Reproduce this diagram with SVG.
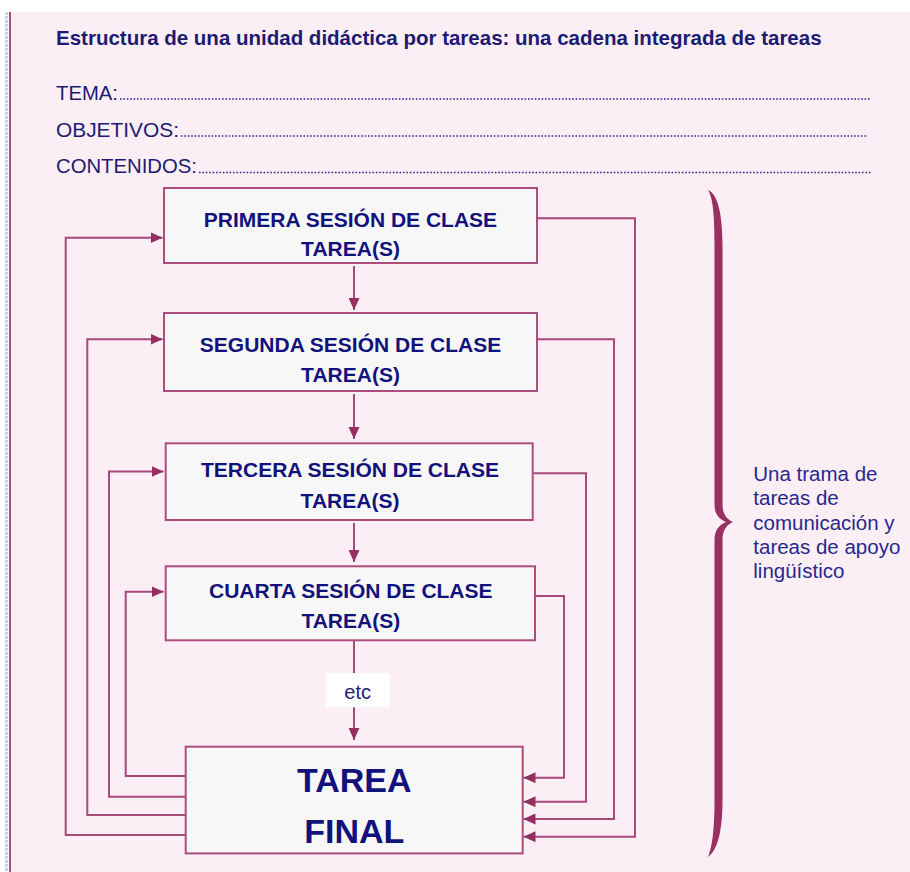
<svg xmlns="http://www.w3.org/2000/svg" width="910" height="872" viewBox="0 0 910 872">
<defs>
<style>
.hdr{font-family:"Liberation Sans",Arial,sans-serif;fill:#1c1c72}
.title{font-size:20.5px;font-weight:bold}
.field{font-size:20.5px}
.dots{stroke:#2a2a8c;stroke-width:1.6;stroke-dasharray:1.6 1.8;fill:none}
.box{fill:#f7f7f7;stroke:#ad4d7e;stroke-width:2}
.bt{font-family:"Liberation Sans",Arial,sans-serif;font-weight:bold;font-size:21px;fill:#12127c;text-anchor:middle}
.big{font-size:34px}
.con{fill:none;stroke:#a9497b;stroke-width:2}
.side{font-family:"Liberation Sans",Arial,sans-serif;font-size:20.5px;fill:#28288e}
</style>
<marker id="ah" markerUnits="userSpaceOnUse" markerWidth="12" markerHeight="11" refX="12" refY="5.5" orient="auto">
<path d="M0,0 L12,5.5 L0,11 Z" fill="#962e60"/>
</marker>
</defs>
<rect x="0" y="0" width="910" height="872" fill="#ffffff"/>
<rect x="9" y="12" width="901" height="860" fill="#fbeef4"/>
<line x1="6.5" y1="12" x2="6.5" y2="872" stroke="#c6d4ea" stroke-width="3" stroke-dasharray="3 1"/>
<line x1="10" y1="12" x2="10" y2="872" stroke="#ad4d7e" stroke-width="2"/>

<g id="header">
<text class="hdr title" x="56" y="45">Estructura de una unidad didáctica por tareas: una cadena integrada de tareas</text>
<text class="hdr field" x="56" y="100" textLength="62" lengthAdjust="spacingAndGlyphs">TEMA:</text>
<line class="dots" x1="120" y1="99" x2="870" y2="99"/>
<text class="hdr field" x="56" y="136.7" textLength="123" lengthAdjust="spacingAndGlyphs">OBJETIVOS:</text>
<line class="dots" x1="181" y1="136" x2="868" y2="136"/>
<text class="hdr field" x="56" y="173.3" textLength="141" lengthAdjust="spacingAndGlyphs">CONTENIDOS:</text>
<line class="dots" x1="199" y1="172.5" x2="872" y2="172.5"/>
</g>

<g id="connectors">
<path class="con" d="M354,266 V310" marker-end="url(#ah)"/>
<path class="con" d="M354,394 V439" marker-end="url(#ah)"/>
<path class="con" d="M354,523 V562" marker-end="url(#ah)"/>
<path class="con" d="M354,640 V673"/>
<path class="con" d="M354,707 V740" marker-end="url(#ah)"/>
<path class="con" d="M185.7,835 H65.7 V237.7 H162.5" marker-end="url(#ah)"/>
<path class="con" d="M185.7,815 H87.3 V339.3 H162.5" marker-end="url(#ah)"/>
<path class="con" d="M185.7,796.7 H109 V471.5 H163.5" marker-end="url(#ah)"/>
<path class="con" d="M185.7,776 H125.7 V591.7 H163.5" marker-end="url(#ah)"/>
<path class="con" d="M536.7,218.3 H635 V836.7 H523.5" marker-end="url(#ah)"/>
<path class="con" d="M536.7,339.3 H614 V819 H523.5" marker-end="url(#ah)"/>
<path class="con" d="M533.3,473.3 H586 V801.7 H523.5" marker-end="url(#ah)"/>
<path class="con" d="M535,596 H564 V777.7 H523.5" marker-end="url(#ah)"/>
</g>

<g id="sesion1">
<rect class="box" x="164" y="188" width="373" height="75"/>
<text class="bt" x="350.5" y="226.7">PRIMERA SESIÓN DE CLASE</text>
<text class="bt" x="350.5" y="256">TAREA(S)</text>
</g>
<g id="sesion2">
<rect class="box" x="164" y="313" width="373" height="78"/>
<text class="bt" x="350.5" y="351.7">SEGUNDA SESIÓN DE CLASE</text>
<text class="bt" x="350.5" y="381.7">TAREA(S)</text>
</g>
<g id="sesion3">
<rect class="box" x="165.7" y="443.3" width="367" height="76.7"/>
<text class="bt" x="350" y="476.7">TERCERA SESIÓN DE CLASE</text>
<text class="bt" x="350" y="507.5">TAREA(S)</text>
</g>
<g id="sesion4">
<rect class="box" x="165.7" y="566.3" width="369.3" height="74"/>
<text class="bt" x="350.8" y="598.3">CUARTA SESIÓN DE CLASE</text>
<text class="bt" x="350.8" y="628.3">TAREA(S)</text>
</g>
<g id="etc">
<rect x="325.7" y="673.3" width="64" height="34" fill="#ffffff"/>
<text x="357.7" y="699" font-family="Liberation Sans, Arial, sans-serif" font-size="20" fill="#1c1c72" text-anchor="middle">etc</text>
</g>
<g id="tarea-final">
<rect class="box" x="185.7" y="746.7" width="337" height="106.7"/>
<text class="bt big" x="354.3" y="792.3">TAREA</text>
<text class="bt big" x="354.3" y="843.3">FINAL</text>
</g>

<g id="brace">
<path d="M708,190 C718,194 722.5,215 722.5,245 L722.5,505 C722.5,513 726,519 733,522 C726,525 722.5,531 722.5,540 L722.5,800 C722.5,830 718,850 708,857 C712,848 714.5,830 714.5,800 L714.5,540 C714.5,530 719,525 726,522 C719,519 714.5,514 714.5,505 L714.5,245 C714.5,215 713,198 708,190 Z" fill="#9a2f61"/>
</g>
<g id="nota">
<text class="side" x="753.3" y="480.7">Una trama de</text>
<text class="side" x="753.3" y="505.1">tareas de</text>
<text class="side" x="753.3" y="529.5">comunicación y</text>
<text class="side" x="753.3" y="553.9">tareas de apoyo</text>
<text class="side" x="753.3" y="578.3">lingüístico</text>
</g>
</svg>
